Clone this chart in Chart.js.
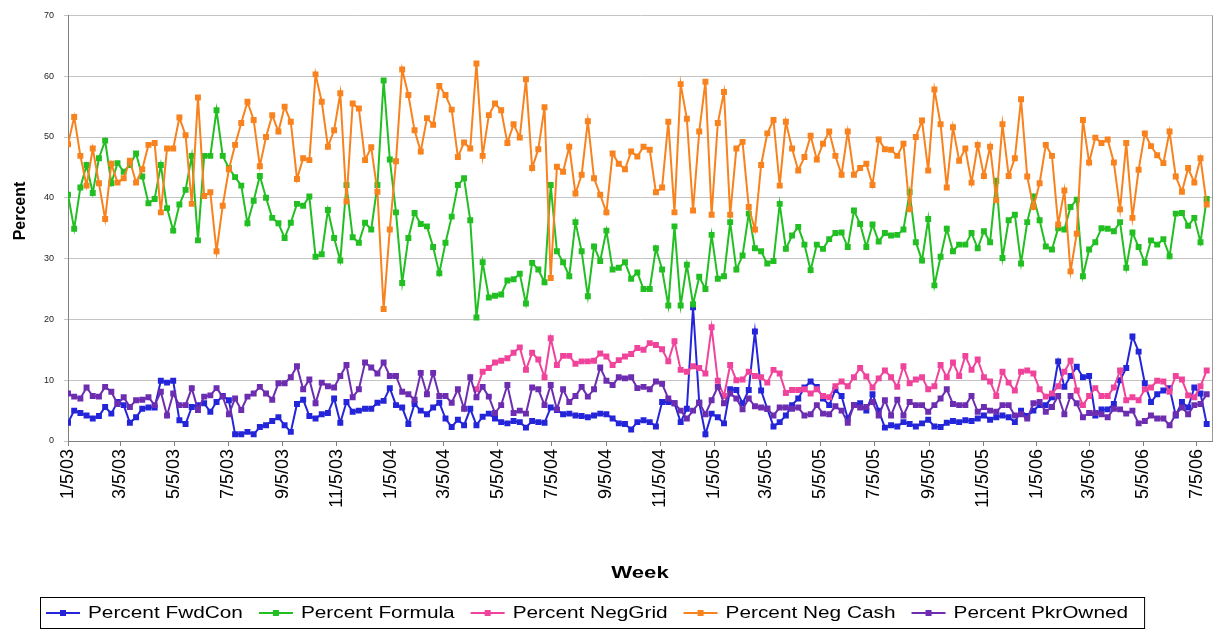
<!DOCTYPE html>
<html>
<head>
<meta charset="utf-8">
<script src="https://cdn.jsdelivr.net/npm/chart.js@4.4.1/dist/chart.umd.min.js"></script>
<style>
  html, body { margin: 0; padding: 0; background: #fff; }
</style>
</head>
<body>
<canvas id="weekchart" width="1222" height="632"></canvas>
<script>
// weekly values, first week = 1/5/03
var firstWeek = '1/5/03';
var tickLabels = ['1/5/03', '3/5/03', '5/5/03', '7/5/03', '9/5/03', '11/5/03',
  '1/5/04', '3/5/04', '5/5/04', '7/5/04', '9/5/04', '11/5/04',
  '1/5/05', '3/5/05', '5/5/05', '7/5/05', '9/5/05', '11/5/05',
  '1/5/06', '3/5/06', '5/5/06', '7/5/06'];

var seriesNames = ['Percent FwdCon', 'Percent Formula', 'Percent NegGrid', 'Percent Neg Cash', 'Percent PkrOwned'];

var fwdCon = [3.0, 5.0, 4.6, 4.2, 3.7, 4.1, 5.6, 4.5, 6.4, 5.9, 3.0, 3.9, 5.3, 5.5, 5.5, 9.9, 9.6, 9.9, 3.4, 2.8,
  5.6, 5.9, 6.2, 4.8, 6.4, 7.4, 6.7, 1.1, 1.1, 1.5, 1.1,
  2.3, 2.6, 3.3, 3.9, 2.6, 1.5, 6.1, 6.8, 4.1, 3.7, 4.4, 4.6, 7.0, 3.0, 6.4, 4.8, 5.0, 5.3, 5.3, 6.3,
  6.6, 8.7, 5.9, 5.5, 2.8, 6.1, 5.0, 4.4, 5.5, 6.3, 3.7,
  2.3, 3.5, 2.6, 5.3, 2.6, 4.0, 4.5, 3.7, 3.1, 2.9, 3.3, 3.1, 2.2, 3.3, 3.1, 3.0, 5.5, 5.1, 4.4, 4.5,
  4.2, 4.1, 3.9, 4.2, 4.5, 4.4, 3.7, 2.9, 2.8, 1.9, 3.1, 3.4,
  3.1, 2.4, 6.4, 6.4, 6.2, 3.1, 5.3, 22.0, 6.3, 1.1, 4.5, 3.9, 2.9, 8.5, 8.4, 6.2, 8.4, 18.0, 8.3, 5.3,
  2.4, 3.1, 4.2, 5.9, 7.0, 8.8, 9.8, 8.9, 7.0, 5.9, 8.4,
  7.4, 3.7, 5.9, 6.2, 5.0, 7.7, 5.0, 2.2, 2.6, 2.4, 3.1, 2.8, 2.4, 2.9, 3.5, 2.4, 2.3, 3.0, 3.3, 3.1,
  3.4, 3.3, 3.7, 4.2, 3.5, 3.9, 4.2, 3.9, 3.1, 5.0, 4.1, 5.0,
  5.9, 5.9, 7.2, 13.1, 8.9, 10.7, 12.2, 10.5, 10.7, 4.2, 5.2, 5.2, 6.1, 10.0, 12.0, 17.2, 14.7, 9.5, 6.4, 7.7,
  8.3, 8.7, 4.2, 6.4, 5.5, 8.8, 7.8, 2.8];

var formula = [40.5, 34.9, 41.7, 45.4, 40.8, 46.5, 49.4, 42.4, 45.7, 44.3, 45.4, 47.3, 43.5, 39.1, 39.8, 45.4, 38.3, 34.6, 38.9, 41.3,
  46.9, 33.0, 46.9, 46.9, 54.4, 46.9, 44.9, 43.4, 42.0, 35.8, 39.5,
  43.6, 40.0, 36.7, 35.8, 33.4, 35.9, 39.0, 38.7, 40.2, 30.3, 30.7, 38.0, 33.4, 29.7, 42.1, 33.5, 32.6, 35.9, 34.8, 42.1,
  59.3, 46.3, 37.6, 26.0, 33.4, 37.5, 35.7, 35.3, 31.9, 27.6, 32.6,
  36.9, 42.1, 43.2, 36.3, 20.3, 29.4, 23.6, 23.9, 24.1, 26.4, 26.6, 27.5, 22.6, 29.3, 28.2, 26.1, 42.1, 31.2, 29.4, 27.1,
  36.0, 31.2, 23.8, 32.0, 29.6, 34.6, 28.2, 28.5, 29.4, 26.7, 27.7, 25.0,
  25.0, 31.7, 28.2, 22.3, 35.3, 22.3, 29.0, 22.5, 27.0, 25.0, 33.9, 26.7, 27.1, 36.0, 28.2, 30.5, 37.4, 31.7, 31.2, 29.2,
  29.6, 39.0, 31.6, 33.8, 35.2, 32.3, 28.1, 32.3, 31.6, 33.2, 34.2,
  34.3, 31.9, 37.9, 35.7, 31.9, 35.6, 32.8, 34.2, 33.8, 33.9, 34.8, 40.9, 32.7, 29.7, 36.5, 25.6, 30.3, 34.9, 31.2, 32.3,
  32.3, 34.2, 31.7, 34.5, 32.7, 42.8, 30.1, 36.3, 37.2, 29.2, 36.0, 40.2,
  36.3, 32.0, 31.5, 35.0, 34.8, 38.5, 39.7, 27.1, 31.5, 32.7, 35.0, 34.9, 34.5, 36.0, 28.5, 34.3, 31.9, 29.3, 33.0, 32.3,
  33.2, 30.4, 37.4, 37.5, 35.4, 36.7, 32.7, 39.8];

// NegGrid only starts in week 66 (spring 2004)
var negGridFirstWeek = 66;
var negGrid = [8.5, 11.4, 12.0, 12.9, 13.2, 13.6, 14.5, 15.4, 11.7, 14.5, 13.4, 10.5, 16.9, 12.5, 14.0, 14.0, 12.7, 13.1, 13.1, 13.2,
  14.4, 13.9, 12.5, 13.3, 13.9, 14.3, 15.3, 15.0,
  16.1, 15.8, 15.1, 13.1, 16.4, 11.7, 11.4, 12.3, 12.0, 11.1, 18.7, 9.9, 7.4, 12.5, 10.0, 10.1, 11.4, 10.7, 10.5, 9.6,
  11.7, 11.1, 7.9, 8.4, 8.4, 8.5, 7.8, 8.5, 7.4, 7.2, 9.0,
  9.8, 9.0, 10.5, 12.0, 10.6, 8.8, 10.3, 11.6, 10.5, 8.9, 12.3, 9.5, 10.1, 10.5, 8.5, 9.0, 12.5, 10.5, 12.9, 10.7,
  14.0, 11.7, 13.4, 10.5, 9.8, 7.4, 11.4, 9.6, 8.3, 11.4, 11.6,
  11.1, 8.5, 7.3, 7.8, 9.0, 11.4, 13.2, 8.3, 5.9, 7.4, 8.7, 7.4, 7.4, 8.8, 11.6, 6.7, 7.2, 6.7, 8.5, 8.8,
  9.9, 9.8, 8.1, 10.7, 10.1, 7.5, 7.2, 9.0, 11.6];

var negCash = [48.8, 53.3, 46.9, 42.0, 48.1, 42.4, 36.5, 45.6, 42.5, 43.2, 46.1, 42.5, 44.7, 48.7, 49.0, 37.6, 48.1, 48.1, 53.2, 50.3,
  39.0, 56.5, 40.3, 40.9, 31.2, 38.7, 44.7, 48.7, 52.3, 55.8, 52.8,
  45.2, 50.0, 53.6, 50.9, 55.0, 52.5, 43.1, 46.5, 46.2, 60.3, 55.8, 48.4, 51.1, 57.2, 39.4, 55.5, 54.7, 46.2, 48.3, 41.0,
  21.7, 34.8, 46.0, 61.1, 56.9, 51.1, 47.6, 53.1, 52.0, 58.4, 56.9,
  54.5, 46.7, 49.1, 48.1, 62.1, 46.9, 53.6, 55.5, 54.4, 49.0, 52.1, 49.9, 59.5, 44.9, 48.0, 54.9, 26.8, 45.1, 44.3, 48.4,
  40.7, 43.8, 52.6, 43.2, 40.5, 37.6, 47.3, 45.6, 44.7, 47.6, 46.8, 48.4,
  47.9, 40.9, 41.7, 52.5, 37.6, 58.7, 53.0, 37.9, 50.9, 59.1, 37.2, 52.3, 57.4, 37.2, 48.1, 49.2, 38.5, 34.8, 45.4, 50.6,
  52.8, 42.0, 52.5, 48.1, 44.5, 46.7, 50.2, 46.3, 48.9, 50.9, 46.9,
  43.8, 50.9, 43.8, 44.9, 45.6, 42.1, 49.6, 48.0, 47.9, 46.9, 48.9, 38.1, 50.0, 52.7, 44.5, 57.8, 52.1, 41.7, 51.6, 46.1,
  48.1, 42.5, 48.7, 43.6, 48.4, 39.6, 52.1, 43.6, 46.5, 56.2, 43.5, 38.5,
  42.4, 48.7, 46.9, 35.6, 41.2, 27.9, 34.1, 52.8, 45.8, 49.9, 49.0, 49.6, 45.8, 38.1, 49.0, 36.7, 44.6, 50.6, 48.5, 47.0,
  45.7, 50.9, 43.5, 41.0, 44.9, 42.5, 46.5, 38.9];

var pkrOwned = [7.8, 7.3, 7.0, 8.8, 7.4, 7.3, 8.9, 8.1, 6.1, 7.2, 5.6, 6.7, 6.8, 7.2, 5.9, 8.1, 4.2, 7.8, 5.9, 5.9,
  8.7, 5.1, 7.3, 7.5, 8.7, 7.3, 4.4, 7.0, 5.1, 7.3, 7.8,
  8.9, 7.8, 6.8, 9.5, 9.5, 10.5, 12.3, 8.5, 10.1, 6.2, 9.6, 9.0, 8.8, 10.7, 12.5, 7.2, 8.5, 12.9, 12.1, 11.1,
  12.9, 10.7, 10.7, 8.1, 7.7, 6.8, 11.2, 7.7, 11.2, 7.4, 7.4,
  6.3, 8.5, 5.3, 10.5, 7.2, 8.9, 7.3, 4.6, 5.9, 9.2, 4.6, 5.0, 4.5, 8.8, 8.5, 5.9, 9.2, 5.2, 8.5, 6.4,
  7.4, 8.9, 7.3, 8.5, 12.1, 9.9, 9.2, 10.5, 10.3, 10.5, 8.7, 8.9,
  8.5, 9.8, 9.4, 7.0, 6.2, 5.0, 3.7, 5.0, 6.3, 4.4, 6.7, 8.9, 6.2, 7.8, 7.0, 5.2, 7.0, 5.7, 5.5, 5.3,
  4.2, 5.5, 5.5, 5.3, 5.5, 4.2, 4.4, 5.9, 4.5, 4.4, 5.7,
  5.0, 3.0, 5.9, 5.5, 5.6, 6.4, 4.2, 6.7, 4.2, 6.8, 4.2, 6.4, 5.9, 5.9, 4.8, 5.9, 7.0, 8.5, 6.1, 5.9,
  5.9, 7.4, 4.8, 5.6, 5.0, 4.8, 5.9, 5.9, 4.2, 4.4, 3.7, 6.2,
  6.4, 4.8, 5.6, 7.4, 4.4, 7.4, 6.2, 3.9, 4.6, 4.6, 4.4, 3.9, 5.3, 5.2, 4.5, 5.0, 2.9, 3.3, 4.2, 3.7,
  3.7, 2.6, 4.4, 5.5, 4.4, 5.9, 6.1, 7.7];

var colors = ['#2424d8', '#22bf22', '#f0449c', '#f7821e', '#6c2db0'];

// days since the first week
function dayOf(label) {
  var p = label.split('/').map(Number);
  var q = firstWeek.split('/').map(Number);
  return (Date.UTC(2000 + p[2], p[0] - 1, p[1]) - Date.UTC(2000 + q[2], q[0] - 1, q[1])) / 86400000;
}
var tickDays = tickLabels.map(dayOf);

function points(values, startWeek) {
  return values.map(function (v, i) { return { x: (startWeek + i) * 7, y: v }; });
}

function makeSet(idx, values, startWeek) {
  return {
    label: seriesNames[idx],
    data: points(values, startWeek),
    borderColor: colors[idx],
    backgroundColor: colors[idx],
    borderWidth: 2,
    pointStyle: 'rect',
    pointRadius: 4.2,
    pointHoverRadius: 4.2,
    pointBorderWidth: 0,
    tension: 0,
    order: 5 - idx   // later series drawn on top, like Excel
  };
}

// titles, plot border and legend box
var chrome = {
  id: 'chrome',
  afterDraw: function (chart) {
    var ctx = chart.ctx, a = chart.chartArea;
    ctx.save();
    ctx.strokeStyle = '#9a9a9a';
    ctx.lineWidth = 1;
    ctx.beginPath();
    ctx.moveTo(Math.round(a.right) + 0.5, a.top);
    ctx.lineTo(Math.round(a.right) + 0.5, a.bottom);
    ctx.stroke();

    ctx.fillStyle = '#000';
    // x title
    ctx.font = 'bold 17px "Liberation Sans", Arial, sans-serif';
    ctx.textAlign = 'center';
    ctx.textBaseline = 'alphabetic';
    ctx.save();
    ctx.translate(640, 578);
    ctx.scale(1.3, 1);
    ctx.fillText('Week', 0, 0);
    ctx.restore();
    // y title
    ctx.save();
    ctx.translate(25, 211);
    ctx.rotate(-Math.PI / 2);
    ctx.font = 'bold 16px "Liberation Sans", Arial, sans-serif';
    ctx.textBaseline = 'alphabetic';
    ctx.fillText('Percent', 0, 0);
    ctx.restore();

    // legend
    var sx = 1.3;
    ctx.font = '16px "Liberation Sans", Arial, sans-serif';
    ctx.textAlign = 'left';
    ctx.textBaseline = 'middle';
    var x = 46, y = 613;
    chart.data.datasets.forEach(function (ds, i) {
      ctx.strokeStyle = colors[i];
      ctx.lineWidth = 2;
      ctx.beginPath();
      ctx.moveTo(x, y);
      ctx.lineTo(x + 34, y);
      ctx.stroke();
      ctx.fillStyle = colors[i];
      ctx.fillRect(x + 14, y - 3, 6, 6);
      ctx.fillStyle = '#000';
      ctx.save();
      ctx.translate(x + 42, y + 1);
      ctx.scale(sx, 1);
      ctx.fillText(ds.label, 0, 0);
      ctx.restore();
      x += 42 + ctx.measureText(ds.label).width * sx + 16;
    });
    ctx.strokeStyle = '#000';
    ctx.lineWidth = 1;
    ctx.strokeRect(40.5, 597.5, x - 40, 31);
    ctx.restore();
  }
};

var ctx = document.getElementById('weekchart').getContext('2d');
var myChart = new Chart(ctx, {
  type: 'line',
  data: {
    datasets: [
      makeSet(0, fwdCon, 0),
      makeSet(1, formula, 0),
      makeSet(2, negGrid, negGridFirstWeek),
      makeSet(3, negCash, 0),
      makeSet(4, pkrOwned, 0)
    ]
  },
  options: {
    responsive: false,
    animation: false,
    layout: { padding: { left: 0, right: 10, top: 15, bottom: 0 } },
    plugins: {
      legend: { display: false },
      tooltip: { enabled: false }
    },
    scales: {
      x: {
        type: 'linear',
        min: 0,
        max: 1294,
        afterFit: function (scale) { scale.height = 191; },
        afterBuildTicks: function (scale) {
          scale.ticks = tickDays.map(function (d) { return { value: d }; });
        },
        grid: {
          drawOnChartArea: false,
          drawTicks: true,
          tickLength: 5,
          color: '#808080'
        },
        border: { color: '#808080' },
        ticks: {
          autoSkip: false,
          minRotation: 90,
          maxRotation: 90,
          padding: 3,
          color: '#000',
          font: { family: '"Liberation Sans", Arial, sans-serif', size: 18 },
          callback: function (v, i) { return tickLabels[i]; }
        }
      },
      y: {
        min: 0,
        max: 70,
        afterFit: function (scale) { scale.width = 68; },
        grid: { color: '#c4c4c4', tickLength: 4 },
        border: { color: '#808080' },
        ticks: {
          stepSize: 10,
          padding: 10,
          color: '#222',
          font: { family: '"Liberation Sans", Arial, sans-serif', size: 9 }
        }
      }
    }
  },
  plugins: [chrome]
});
</script>
</body>
</html>
